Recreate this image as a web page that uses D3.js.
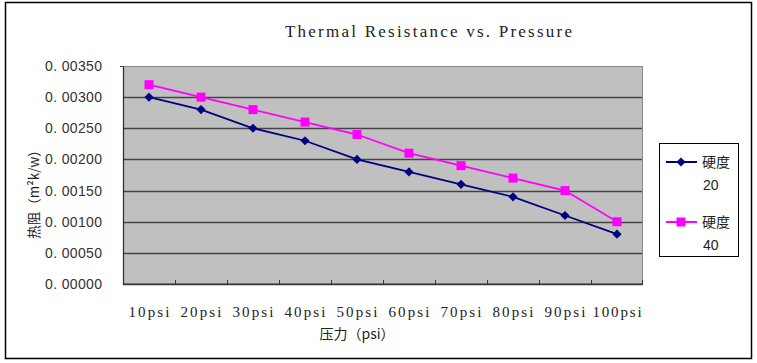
<!DOCTYPE html>
<html>
<head>
<meta charset="utf-8">
<script src="https://cdn.jsdelivr.net/npm/d3@7"></script>
<style>
  body { margin: 0; background: #fff; }
  svg { display: block; }
</style>
</head>
<body>
<svg id="chart"></svg>
<script>
let categories = ['10psi', '20psi', '30psi', '40psi', '50psi', '60psi', '70psi', '80psi', '90psi', '100psi'];
let hardness20 = [0.0030, 0.0028, 0.0025, 0.0023, 0.0020, 0.0018, 0.0016, 0.0014, 0.0011, 0.0008];
let hardness40 = [0.0032, 0.0030, 0.0028, 0.0026, 0.0024, 0.0021, 0.0019, 0.0017, 0.0015, 0.0010];
let yTicks = [0, 0.0005, 0.001, 0.0015, 0.002, 0.0025, 0.003, 0.0035];
let seriesNames = [['硬度', '20'], ['硬度', '40']];

let serifFont = '"Liberation Serif", "DejaVu Serif", serif';
let sansFont = '"Liberation Sans", Arial, sans-serif';
let cjkFont = '"Noto Sans CJK SC", sans-serif';

function getConfig() {
    let width = 757;
    let height = 363;
    let margin = { top: 66, left: 123, right: 114, bottom: 79 };
    let bodyWidth = width - margin.left - margin.right;
    let bodyHeight = height - margin.top - margin.bottom;
    let container = d3.select('#chart')
        .attr('width', width)
        .attr('height', height);
    return { width, height, margin, bodyWidth, bodyHeight, container };
}

function getScales(config) {
    let xScale = d3.scaleBand()
        .domain(categories)
        .range([0, config.bodyWidth]);
    let yScale = d3.scaleLinear()
        .domain([0, 0.0035])
        .range([config.bodyHeight, 0]);
    return { xScale, yScale };
}

function drawFrame(config) {
    config.container.append('rect')
        .attr('x', 5.5).attr('y', 2.5)
        .attr('width', 746).attr('height', 356)
        .attr('fill', '#fff')
        .attr('stroke', '#000')
        .attr('stroke-width', 1.5);

    // title, SimSun-like half-width spacing
    let title = 'Thermal Resistance vs. Pressure';
    config.container.append('text')
        .attr('x', 285).attr('y', 37)
        .attr('textLength', 287)
        .attr('lengthAdjust', 'spacing')
        .style('font-family', serifFont)
        .style('font-size', '17px')
        .attr('fill', '#222')
        .text(title);
}

function drawPlot(config, scales) {
    let { margin, bodyWidth, bodyHeight, container } = config;
    let { xScale, yScale } = scales;
    let body = container.append('g')
        .attr('transform', `translate(${margin.left},${margin.top})`);

    body.append('rect')
        .attr('width', bodyWidth).attr('height', bodyHeight)
        .attr('fill', '#c0c0c0');

    body.selectAll('.grid').data(yTicks.slice(1, -1))
        .enter().append('line')
        .attr('x1', 0).attr('x2', bodyWidth)
        .attr('y1', d => Math.round(yScale(d)) + 0.5)
        .attr('y2', d => Math.round(yScale(d)) + 0.5)
        .attr('stroke', '#444')
        .attr('stroke-width', 1.3);

    body.append('rect')
        .attr('x', 0.5).attr('y', 0.5)
        .attr('width', bodyWidth - 1).attr('height', bodyHeight - 1)
        .attr('fill', 'none')
        .attr('stroke', '#8a8a8a');

    // axes
    let axisY = d3.axisLeft(yScale)
        .tickValues(yTicks)
        .tickSize(0)
        .tickPadding(21)
        .tickFormat(d => d3.format('.5f')(d).replace('.', '. '));
    let gy = body.append('g').call(axisY);
    gy.select('.domain')
        .attr('stroke', '#333')
        .attr('stroke-width', 1.3);
    gy.selectAll('text')
        .attr('textLength', 57)
        .attr('lengthAdjust', 'spacing')
        .style('font-family', sansFont)
        .style('font-size', '14px')
        .attr('fill', '#333');
    body.append('line')
        .attr('x1', -3).attr('x2', 0)
        .attr('y1', 0.5).attr('y2', 0.5)
        .attr('stroke', '#333');

    let gx = body.append('g')
        .attr('transform', `translate(0,${bodyHeight})`);
    gx.append('line')
        .attr('x1', 0).attr('x2', bodyWidth)
        .attr('y1', 0.5).attr('y2', 0.5)
        .attr('stroke', '#333').attr('stroke-width', 1.5);
    gx.selectAll('.xtick').data(categories.slice(1))
        .enter().append('line')
        .attr('x1', d => Math.round(xScale(d)) + 0.5)
        .attr('x2', d => Math.round(xScale(d)) + 0.5)
        .attr('y1', 0).attr('y2', -4)
        .attr('stroke', '#333');
    gx.append('line')
        .attr('x1', bodyWidth - 0.5).attr('x2', bodyWidth - 0.5)
        .attr('y1', 0).attr('y2', -4)
        .attr('stroke', '#333');
    gx.selectAll('.xlabel').data(categories)
        .enter().append('text')
        .attr('x', d => xScale(d) + xScale.bandwidth() / 2 - d.length * 4.1)
        .attr('y', 33)
        .attr('textLength', d => d.length * 8.2)
        .attr('lengthAdjust', 'spacing')
        .style('font-family', serifFont)
        .style('font-size', '15px')
        .attr('fill', '#222')
        .text(d => d);

    // axis titles
    container.append('text')
        .attr('x', 357).attr('y', 339)
        .attr('text-anchor', 'middle')
        .style('font-family', cjkFont)
        .style('font-size', '14px')
        .attr('fill', '#222')
        .text('压力（psi）');

    container.append('text')
        .attr('transform', 'translate(39,191) rotate(-90)')
        .attr('text-anchor', 'middle')
        .style('font-family', cjkFont)
        .style('font-size', '13.5px')
        .attr('fill', '#222')
        .text('热阻（m²k/w）');

    // series
    let line = d3.line()
        .x((d, i) => xScale(categories[i]) + xScale.bandwidth() / 2)
        .y(d => yScale(d));

    body.append('path').datum(hardness20)
        .attr('d', line)
        .attr('fill', 'none')
        .attr('stroke', '#000080')
        .attr('stroke-width', 1.8);
    body.append('path').datum(hardness40)
        .attr('d', line)
        .attr('fill', 'none')
        .attr('stroke', '#ff00ff')
        .attr('stroke-width', 1.8);

    body.selectAll('.diamond').data(hardness20)
        .enter().append('path')
        .attr('d', d3.symbol(d3.symbolSquare, 42))
        .attr('transform', (d, i) => `translate(${xScale(categories[i]) + xScale.bandwidth() / 2},${yScale(d)}) rotate(45)`)
        .attr('fill', '#000080');
    body.selectAll('.square').data(hardness40)
        .enter().append('rect')
        .attr('x', (d, i) => xScale(categories[i]) + xScale.bandwidth() / 2 - 4.5)
        .attr('y', d => yScale(d) - 4.5)
        .attr('width', 9).attr('height', 9)
        .attr('fill', '#ff00ff');
}

function drawLegend(config) {
    let { container } = config;
    let legend = container.append('g').attr('transform', 'translate(659,143)');
    legend.append('rect')
        .attr('x', 0.5).attr('y', 0.5)
        .attr('width', 79).attr('height', 113)
        .attr('fill', '#fff')
        .attr('stroke', '#000');

    let colors = ['#000080', '#ff00ff'];
    seriesNames.forEach((name, i) => {
        let y = 19 + i * 60;
        let g = legend.append('g');
        g.append('line')
            .attr('x1', 7).attr('x2', 38)
            .attr('y1', y).attr('y2', y)
            .attr('stroke', colors[i]).attr('stroke-width', 2);
        if (i === 0) {
            g.append('path')
                .attr('d', d3.symbol(d3.symbolSquare, 42))
                .attr('transform', `translate(22,${y}) rotate(45)`)
                .attr('fill', colors[i]);
        } else {
            g.append('rect')
                .attr('x', 17.5).attr('y', y - 4.5)
                .attr('width', 9).attr('height', 9)
                .attr('fill', colors[i]);
        }
        g.append('text')
            .attr('x', 43).attr('y', y + 5)
            .style('font-family', cjkFont)
            .style('font-size', '14px')
            .attr('fill', '#222')
            .text(name[0]);
        g.append('text')
            .attr('x', 44).attr('y', y + 28)
            .style('font-family', sansFont)
            .style('font-size', '14px')
            .attr('fill', '#222')
            .text(name[1]);
    });
}

let config = getConfig();
let scales = getScales(config);
drawFrame(config);
drawPlot(config, scales);
drawLegend(config);
</script>
</body>
</html>
